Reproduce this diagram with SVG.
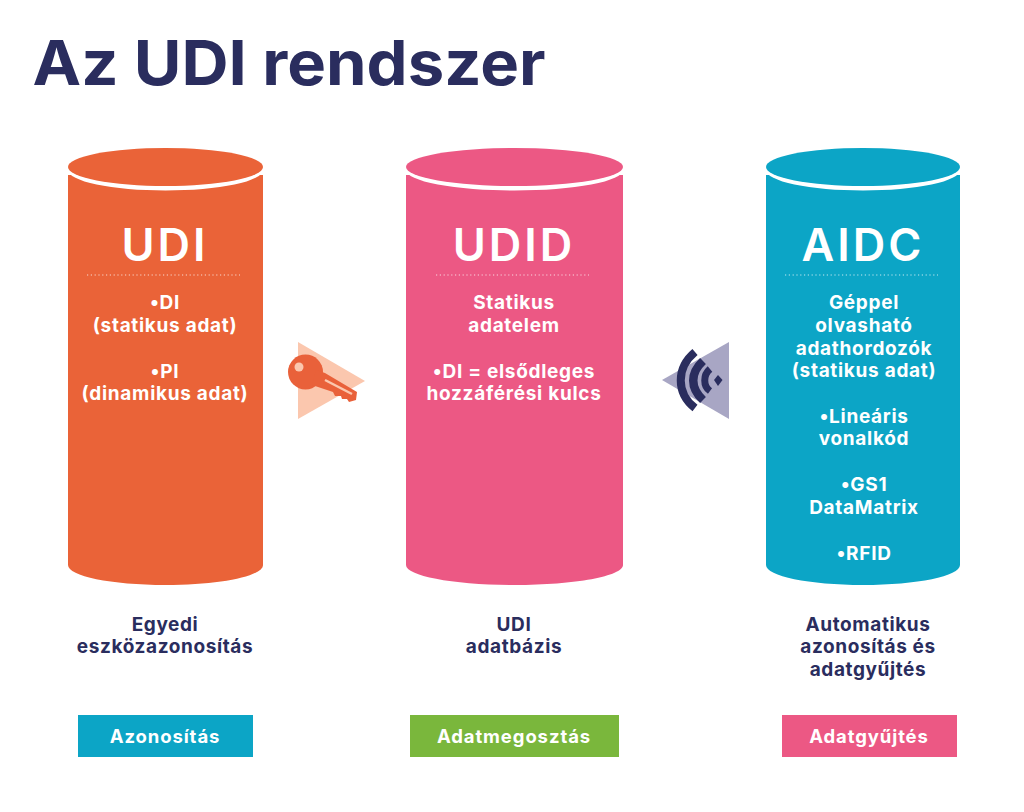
<svg xmlns="http://www.w3.org/2000/svg" width="1024" height="812" viewBox="0 0 1024 812">
<style>
text{font-family:"Inter","Open Sans","Liberation Sans",sans-serif;font-weight:700;text-anchor:middle}
.t{font-size:19px;fill:#fff;letter-spacing:.7px}
.h{font-size:45px;fill:#fff;font-weight:600;letter-spacing:3px}
.c{font-size:19px;fill:#2a2d5e;letter-spacing:.6px}
.b{font-size:18.500px;fill:#fff;letter-spacing:.9px}
.dots{stroke:#fff;stroke-width:1.2;stroke-dasharray:1.2 2.6;fill:none;opacity:.75}
</style>
<rect width="1024" height="812" fill="#fff"/>
<text id="title" x="289" y="85" style="font-size:62px;fill:#2a2d5e;font-weight:700" textLength="513" lengthAdjust="spacingAndGlyphs">Az UDI rendszer</text>

<g id="connectors">
<g id="arrow-key">
<polygon points="298,342 365,381 298,419" fill="#fbc7ae"/>
<circle cx="305.500" cy="372" r="17.500" fill="#e9613a"/>
<path d="M316,370 L325,373 L357,392 L356,400 L349,402 L347,399 L342,399 L341,396 L335,396 L333,392 L312,385 Z" fill="#e9613a"/>
<circle cx="299" cy="367" r="4.500" fill="#fbc7ae"/>
<path d="M325,380 L352,394" stroke="#fbc7ae" stroke-width="2.500" fill="none"/>
</g>
<g id="arrow-wave">
<polygon points="729,342 729,419 662,380" fill="#a8a6c4"/>
<g fill="none" stroke="#2a2d5e">
<path d="M695,352 C676,368 676,393 695,408" stroke-width="8"/>
<path d="M703,361 C690,373 690,388 703,400" stroke-width="8.500"/>
<path d="M710,369 C703,375 703,386 710,391" stroke-width="7"/>
</g>
<polygon points="718,375 722.500,380 718,386 714,380" fill="#2a2d5e"/>
</g>
</g>

<g id="node-udi">
<path d="M68,175 H263 V565 C263,576 220,585 165.500,585 C111,585 68,576 68,565 Z" fill="#ea6338"/>
<ellipse cx="165.500" cy="170" rx="97.500" ry="20.500" fill="#fff"/>
<ellipse cx="165.500" cy="167" rx="97.500" ry="19" fill="#ea6338"/>
<text class="h" x="165" y="261">UDI</text>
<line class="dots" x1="87" y1="275" x2="240" y2="275"/>
<text class="t" x="165" y="309">•DI</text>
<text class="t" x="165" y="332">(statikus adat)</text>
<text class="t" x="165" y="378">•PI</text>
<text class="t" x="165" y="400">(dinamikus adat)</text>
</g>

<g id="node-udid">
<path d="M406,175 H623 V565 C623,576 575,585 514.500,585 C454,585 406,576 406,565 Z" fill="#ec5884"/>
<ellipse cx="514.500" cy="170" rx="108.500" ry="20.500" fill="#fff"/>
<ellipse cx="514.500" cy="167" rx="108.500" ry="19" fill="#ec5884"/>
<text class="h" x="514" y="261">UDID</text>
<line class="dots" x1="436" y1="275" x2="589" y2="275"/>
<text class="t" x="514" y="309">Statikus</text>
<text class="t" x="514" y="332">adatelem</text>
<text class="t" x="514" y="378">•DI = elsődleges</text>
<text class="t" x="514" y="400">hozzáférési kulcs</text>
</g>

<g id="node-aidc">
<path d="M766,175 H960 V565 C960,576 917,585 863,585 C809,585 766,576 766,565 Z" fill="#0ca5c6"/>
<ellipse cx="863" cy="170" rx="97" ry="20.500" fill="#fff"/>
<ellipse cx="863" cy="167" rx="97" ry="19" fill="#0ca5c6"/>
<text class="h" x="863" y="261">AIDC</text>
<line class="dots" x1="785" y1="275" x2="938" y2="275"/>
<text class="t" x="864" y="309">Géppel</text>
<text class="t" x="864" y="332">olvasható</text>
<text class="t" x="864" y="355">adathordozók</text>
<text class="t" x="864" y="377">(statikus adat)</text>
<text class="t" x="864" y="423">•Lineáris</text>
<text class="t" x="864" y="445">vonalkód</text>
<text class="t" x="864" y="491">•GS1</text>
<text class="t" x="864" y="514">DataMatrix</text>
<text class="t" x="864" y="560">•RFID</text>
</g>

<g id="caption-udi">
<text class="c" x="165" y="631">Egyedi</text>
<text class="c" x="165" y="653">eszközazonosítás</text>
</g>
<g id="caption-udid">
<text class="c" x="514" y="631">UDI</text>
<text class="c" x="514" y="653">adatbázis</text>
</g>
<g id="caption-aidc">
<text class="c" x="868" y="631">Automatikus</text>
<text class="c" x="868" y="653">azonosítás és</text>
<text class="c" x="868" y="676">adatgyűjtés</text>
</g>

<g id="tag-azonositas">
<rect x="78" y="715" width="175" height="42" fill="#0ca5c6"/>
<text class="b" x="165" y="743">Azonosítás</text>
</g>
<g id="tag-adatmegosztas">
<rect x="410" y="715" width="209" height="42" fill="#7ab73c"/>
<text class="b" x="514" y="743">Adatmegosztás</text>
</g>
<g id="tag-adatgyujtes">
<rect x="782" y="715" width="175" height="42" fill="#ec5884"/>
<text class="b" x="869" y="743">Adatgyűjtés</text>
</g>
</svg>
